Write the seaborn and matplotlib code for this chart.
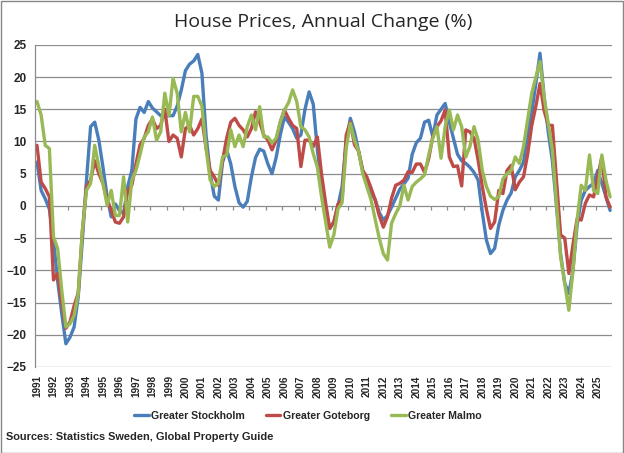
import matplotlib
matplotlib.use("Agg")
import matplotlib.pyplot as plt
from matplotlib.patches import Rectangle
import numpy as np
import pandas as pd
import seaborn as sns

# quarterly annual change (%), 1991Q1 .. 2025Q4, one row per year
years = list(range(1991, 2026))

stockholm = [
    6.8, 2.4, 1.1, -0.5,
    -5.3, -11.6, -16.7, -21.4,
    -20.4, -18.8, -14.1, -5.3,
    4.0, 12.3, 13.0, 10.2,
    6.0, 1.5, -1.7, 0.3,
    -0.7, -1.2, 3.0, 5.5,
    13.5, 15.3, 14.5, 16.2,
    15.2, 14.6, 14.0, 14.0,
    14.0, 14.0, 15.5, 18.0,
    21.0, 22.0, 22.5, 23.5,
    20.6, 11.0, 5.0, 1.5,
    0.9, 6.8, 8.7, 6.5,
    3.0, 0.5, -0.2, 0.7,
    4.5, 7.5, 8.8, 8.5,
    6.5, 5.0, 7.5, 11.0,
    13.8, 13.0, 12.0, 10.5,
    11.0, 15.0, 17.7, 15.8,
    8.7, 3.5, -1.5, -3.5,
    -2.5, 0.0, 3.0, 10.0,
    13.6, 11.5, 8.5, 5.5,
    4.0, 2.0, 1.0, -1.0,
    -2.2, -1.5, -0.2, 1.2,
    2.6, 3.4, 4.3, 8.0,
    9.8, 10.5, 13.0, 13.3,
    10.7, 14.1, 15.0, 15.9,
    13.0, 10.5, 8.0, 7.0,
    6.6, 6.0, 5.2, 4.0,
    -1.0, -5.3, -7.4, -6.6,
    -3.0, -0.7, 0.9, 2.0,
    4.5, 5.5, 6.8, 11.0,
    14.6, 19.0, 23.7, 17.0,
    11.5, 7.0, 0.0, -7.5,
    -12.0, -13.6, -10.0, -3.0,
    0.9, 2.4, 3.0, 3.5,
    5.5, 3.5, 1.4, -0.7,
]

goteborg = [
    9.4, 3.7, 2.7, 1.4,
    -11.5, -10.5, -15.0, -19.0,
    -18.0, -15.5, -13.5, -4.0,
    3.0, 4.0, 7.0, 5.0,
    3.5, 1.0, -0.7, -2.5,
    -2.7, -1.7, 2.4, 3.2,
    6.5, 9.5, 10.5, 12.5,
    13.5, 12.0, 12.5, 15.0,
    10.0, 11.0, 10.5, 7.6,
    12.0, 12.5, 11.0, 12.0,
    13.5, 9.0, 5.5, 4.5,
    3.2, 7.0, 10.5, 13.0,
    13.6, 12.5, 11.8, 10.7,
    12.0, 14.6, 13.0, 11.0,
    10.2, 8.7, 10.2, 13.0,
    14.9, 13.6, 12.5, 12.0,
    6.1, 10.2, 10.2, 9.2,
    10.7, 5.0, 0.5, -3.5,
    -2.5, 0.3, 1.0, 11.0,
    13.0, 9.5, 8.5, 5.5,
    4.5, 2.8, 1.0, -1.5,
    -3.3, -1.7, 1.2, 3.2,
    3.5, 4.0, 5.3, 5.2,
    6.5, 6.5, 5.2, 7.3,
    10.8, 12.3, 13.2, 14.9,
    7.6, 6.1, 6.2, 3.1,
    11.8, 11.5, 10.5, 7.1,
    3.0, -0.5, -3.5, -2.5,
    2.4, 1.9, 5.5, 6.3,
    2.5, 3.7, 4.5, 8.0,
    12.5, 15.5, 19.0, 14.8,
    12.5, 12.5, 4.0, -4.5,
    -5.0, -10.5, -6.0, -2.0,
    -2.2, 0.4, 1.7, 1.4,
    4.5, 7.6, 1.4, -0.2,
]

malmo = [
    16.2, 14.1, 9.4, 8.9,
    -4.8, -6.6, -13.1, -18.8,
    -18.3, -17.0, -13.6, -3.8,
    2.4, 3.5, 9.4, 6.1,
    3.5, 0.1, 2.4, -1.5,
    -1.5, 4.5, -2.5, 4.0,
    5.5, 8.0, 10.7, 11.5,
    13.8, 10.2, 11.5, 17.5,
    14.0, 19.8, 17.5, 11.5,
    14.5, 11.5, 17.0, 17.0,
    15.5, 9.0, 4.0, 3.0,
    3.5, 7.6, 7.9, 11.8,
    9.2, 11.0, 9.2, 12.3,
    14.1, 11.8, 15.4, 10.7,
    10.7, 9.8, 10.5, 13.0,
    14.9, 16.0, 18.0, 16.2,
    12.3, 11.8, 10.7, 8.1,
    6.0, 1.5, -2.5, -6.4,
    -4.5, -0.5, 0.5, 9.0,
    12.8, 10.2, 8.5, 5.0,
    3.0, 1.0, -2.0, -5.0,
    -7.4, -8.4, -2.7, -1.2,
    0.0, 3.2, 0.9, 3.0,
    3.7, 4.2, 4.8, 7.9,
    10.5, 12.3, 7.4, 12.3,
    14.9, 11.8, 14.1, 12.3,
    7.6, 9.2, 12.3, 10.2,
    5.5, 3.0, 1.5, 1.0,
    1.4, 4.2, 5.0, 5.5,
    7.6, 6.6, 9.2, 13.3,
    17.5, 20.0, 22.4, 16.9,
    12.8, 8.7, 0.4, -7.9,
    -12.0, -16.2, -10.0, -2.2,
    3.2, 2.4, 7.9, 2.4,
    1.9, 7.9, 4.0, 1.4,
]

regions = ["Greater Stockholm", "Greater Goteborg", "Greater Malmo"]
colors = ["#4A7EBB", "#BE4B48", "#98B954"]
title = "House Prices, Annual Change (%)"
source = "Sources: Statistics Sweden, Global Property Guide"

periods = [f"{y}Q{q}" for y in years for q in range(1, 5)]
frames = []
for name, vals in zip(regions, [stockholm, goteborg, malmo]):
    frames.append(pd.DataFrame({"period": periods[:len(vals)],
                                "pos": np.arange(len(vals)),
                                "value": vals,
                                "region": name}))
df = pd.concat(frames, ignore_index=True)

sns.set_style("white")
plt.rcParams["font.family"] = ["Liberation Sans", "DejaVu Sans"]

fig = plt.figure(figsize=(6.24, 4.53), dpi=100)
ax = fig.add_axes([0.056, 0.19, 0.925, 0.711])

sns.lineplot(data=df, x="pos", y="value", hue="region", hue_order=regions,
             palette=dict(zip(regions, colors)), linewidth=2.4, ax=ax)

n = len(periods)
ax.set_xlim(-0.5, n - 0.5)
ax.set_ylim(-25, 25)
ax.set_yticks(np.arange(-25, 26, 5))
ax.yaxis.grid(True, color="#8C8C8C", linewidth=0.9)
ax.set_axisbelow(True)
ax.set_xlabel("")
ax.set_ylabel("")

ax.set_xticks(np.arange(0, n, 4))
ax.set_xticklabels([str(y) for y in years], rotation=90, fontsize=7.2,
                   fontweight="bold")
ax.tick_params(axis="x", length=0, pad=6)
ax.tick_params(axis="y", length=3, width=0.9, color="#8C8C8C", labelsize=8.5, pad=3)
for lab in ax.get_yticklabels():
    lab.set_fontweight("bold")

# category tick marks on the zero line, between years
ax.vlines(np.arange(-0.5, n, 4), -0.6, 0, color="#8C8C8C", linewidth=0.9, zorder=1)

for side in ["top", "right", "bottom"]:
    ax.spines[side].set_visible(False)
ax.spines["left"].set_color("#8C8C8C")
ax.spines["left"].set_linewidth(0.9)

ax.set_title(title, fontsize=14, family=["Open Sans", "DejaVu Sans"], pad=13)

handles, labels = ax.get_legend_handles_labels()
ax.get_legend().remove()
fig.legend(handles, labels, loc="center", bbox_to_anchor=(0.493, 0.082), ncol=3,
           frameon=False, handlelength=1.4, handletextpad=0.2, columnspacing=2.0,
           prop={"weight": "bold", "size": 7.6})

fig.text(0.01, 0.035, source, fontsize=7.9, fontweight="bold", va="center")

fig.patches.append(Rectangle((0.001, 0.001), 0.997, 0.997, transform=fig.transFigure,
                             fill=False, edgecolor="#868686", linewidth=1))

fig.savefig("out.png", dpi=100)
